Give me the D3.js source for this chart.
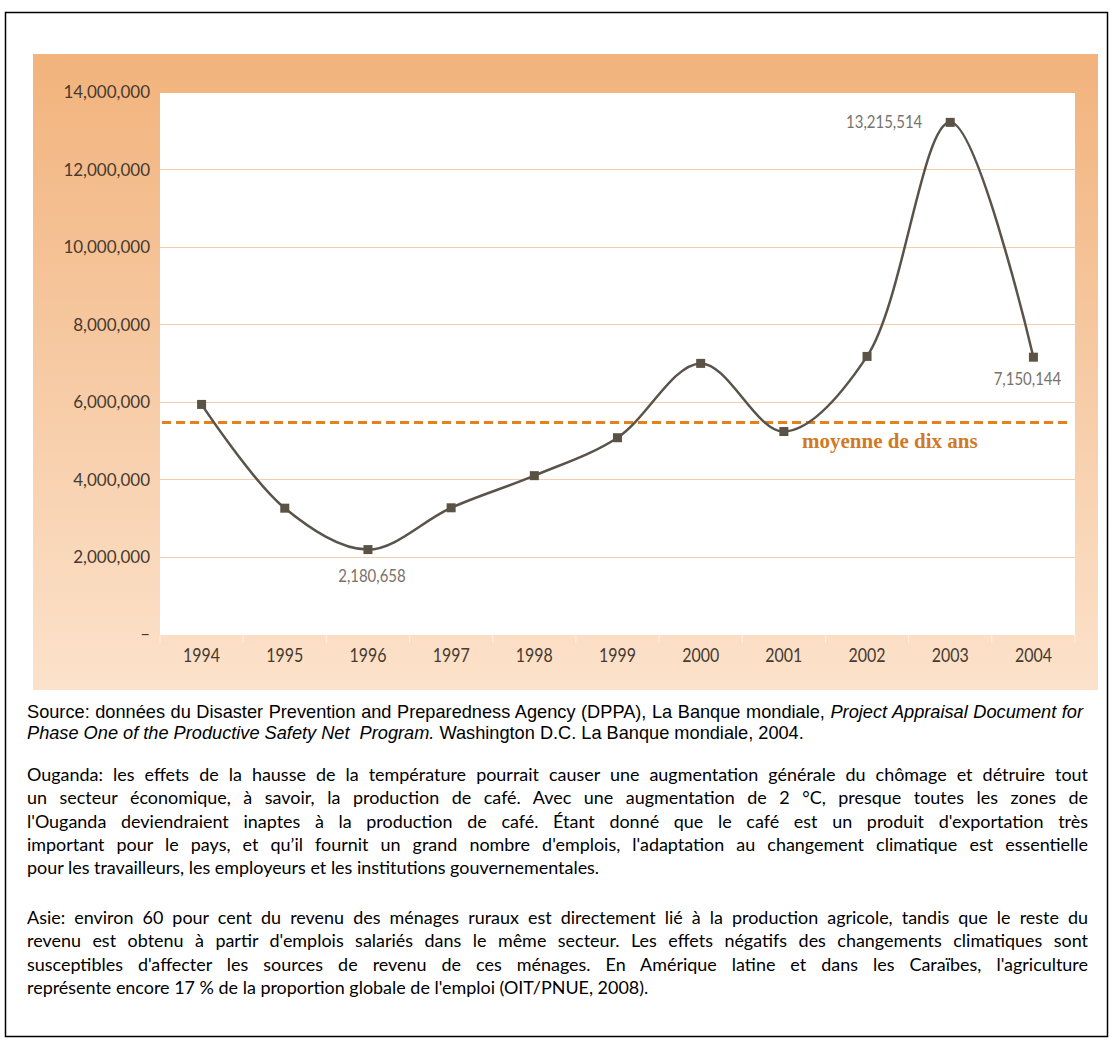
<!DOCTYPE html>
<html lang="fr">
<head>
<meta charset="utf-8">
<script src="https://cdn.jsdelivr.net/npm/d3@7"></script>
<style>
  html, body { margin: 0; padding: 0; background: #fff; }
  #page { position: relative; width: 1114px; height: 1043px; overflow: hidden; }
  #page svg { position: absolute; left: 0; top: 0; }
  .txt { position: absolute; left: 27px; width: 1061px; color: #000; }
  .line { white-space: nowrap; }
  .pre { white-space: pre; }
  .just { text-align: justify; text-align-last: justify; white-space: normal; }
  .src { font-family: "Liberation Sans", Arial, sans-serif; font-size: 18.2px; line-height: 21px; width: 1056px; }
  .para { font-family: Lato, "Open Sans", sans-serif; line-height: 23.3px; }
</style>
</head>
<body>
<div id="page"></div>
<script>
// Coffee export revenue, Ouganda (USD)
const years = [1994, 1995, 1996, 1997, 1998, 1999, 2000, 2001, 2002, 2003, 2004];
const values = [5930000, 3250000, 2180658, 3260000, 4090000, 5070000, 6990000, 5230000, 7170000, 13215514, 7150144];
const tenYearAverage = 5460000;
const averageLabel = "moyenne de dix ans";
const yTicks = [0, 2000000, 4000000, 6000000, 8000000, 10000000, 12000000, 14000000];
const labelledYears = [1996, 2003, 2004];

const sourceLines = [
  [["Source: données du Disaster Prevention and Preparedness Agency (DPPA), La Banque mondiale, ", false], ["Project Appraisal Document for", true]],
  [["Phase One of the Productive Safety Net  Program.", true], [" Washington D.C. La Banque mondiale, 2004.", false]]
];
const ougandaLines = [
  "Ouganda: les effets de la hausse de la température pourrait causer une augmentation générale du chômage et détruire tout",
  "un secteur économique, à savoir, la production de café. Avec une augmentation de 2 °C, presque toutes les zones de",
  "l'Ouganda deviendraient inaptes à la production de café. Étant donné que le café est un produit d'exportation très",
  "important pour le pays, et qu’il fournit un grand nombre d'emplois, l'adaptation au changement climatique est essentielle",
  "pour les travailleurs, les employeurs et les institutions gouvernementales."
];
const asieLines = [
  "Asie: environ 60 pour cent du revenu des ménages ruraux est directement lié à la production agricole, tandis que le reste du",
  "revenu est obtenu à partir d'emplois salariés dans le même secteur. Les effets négatifs des changements climatiques sont",
  "susceptibles d'affecter les sources de revenu de ces ménages. En Amérique latine et dans les Caraïbes, l'agriculture",
  "représente encore 17 % de la proportion globale de l'emploi (OIT/PNUE, 2008)."
];

const W = 1114, H = 1043;
const panel = { x: 33, y: 54, w: 1065, h: 636 };
const plot = { left: 160, top: 93, right: 1075, bottom: 635 };

const page = d3.select("#page");
const svg = page.append("svg").attr("width", W).attr("height", H);

// outer frame
svg.append("rect")
  .attr("x", 5.5).attr("y", 12.5).attr("width", 1102).attr("height", 1024)
  .attr("fill", "none").attr("stroke", "#000").attr("stroke-width", 1.5);

// orange panel with vertical gradient
const defs = svg.append("defs");
const grad = defs.append("linearGradient").attr("id", "panelGrad")
  .attr("x1", 0).attr("y1", 0).attr("x2", 0).attr("y2", 1);
grad.append("stop").attr("offset", "0%").attr("stop-color", "#f2b37c");
grad.append("stop").attr("offset", "45%").attr("stop-color", "#f6c8a0");
grad.append("stop").attr("offset", "100%").attr("stop-color", "#fce2cb");

svg.append("rect")
  .attr("x", panel.x).attr("y", panel.y).attr("width", panel.w).attr("height", panel.h)
  .attr("fill", "url(#panelGrad)");

// white plotting area
svg.append("rect")
  .attr("x", plot.left).attr("y", plot.top)
  .attr("width", plot.right - plot.left).attr("height", plot.bottom - plot.top)
  .attr("fill", "#fff");

const x = d3.scalePoint().domain(years).range([plot.left, plot.right]).padding(0.5);
const y = d3.scaleLinear().domain([0, 14000000]).range([plot.bottom - 1, plot.top - 1]);

// horizontal gridlines
svg.append("g").selectAll("line")
  .data(yTicks.filter(t => t > 0 && t < 14000000))
  .join("line")
  .attr("x1", plot.left).attr("x2", plot.right)
  .attr("y1", d => Math.round(y(d)) + 0.5).attr("y2", d => Math.round(y(d)) + 0.5)
  .attr("stroke", "#f6cdab").attr("stroke-width", 1.2);

// y axis labels
const fmt = d3.format(",");
const yAxis = d3.axisLeft(y).tickValues(yTicks)
  .tickFormat(d => d === 0 ? "–" : fmt(d))
  .tickSize(0).tickPadding(0);
const gy = svg.append("g").attr("transform", `translate(150,0)`).call(yAxis);
gy.select(".domain").remove();
gy.selectAll("text")
  .attr("font-family", "Lato, sans-serif").attr("font-size", 17)
  .attr("fill", "#463a30").attr("dy", "0.35em");

// x axis: faint separators and year labels
const step = x.step();
svg.append("g").selectAll("line")
  .data(d3.range(years.length + 1))
  .join("line")
  .attr("x1", i => plot.left + i * step).attr("x2", i => plot.left + i * step)
  .attr("y1", plot.bottom).attr("y2", plot.bottom + 8)
  .attr("stroke", "#ffffff").attr("stroke-opacity", 0.6).attr("stroke-width", 1);

svg.append("g").selectAll("text")
  .data(years)
  .join("text")
  .attr("transform", d => `translate(${x(d)},662) scale(0.84,1)`)
  .attr("text-anchor", "middle")
  .attr("font-family", "Lato, sans-serif").attr("font-size", 19)
  .attr("fill", "#463a30")
  .text(d => d);

// ten-year average
svg.append("line")
  .attr("x1", plot.left + 2).attr("x2", 1067)
  .attr("y1", y(tenYearAverage)).attr("y2", y(tenYearAverage))
  .attr("stroke", "#e4801f").attr("stroke-width", 3)
  .attr("stroke-dasharray", "9,5");

svg.append("text")
  .attr("x", 802).attr("y", y(tenYearAverage) + 25)
  .attr("font-family", "'Liberation Serif', 'Times New Roman', serif")
  .attr("font-weight", "bold").attr("font-size", 21)
  .attr("fill", "#d07a26")
  .text(averageLabel);

// series line
const data = years.map((yr, i) => ({ year: yr, value: values[i] }));
const line = d3.line()
  .x(d => x(d.year)).y(d => y(d.value))
  .curve(d3.curveCatmullRom.alpha(0.5));

svg.append("path")
  .datum(data)
  .attr("d", line)
  .attr("fill", "none")
  .attr("stroke", "#59534a").attr("stroke-width", 2.5);

// markers
const m = 9;
svg.append("g").selectAll("rect")
  .data(data)
  .join("rect")
  .attr("x", d => x(d.year) - m / 2).attr("y", d => y(d.value) - m / 2)
  .attr("width", m).attr("height", m)
  .attr("fill", "#5a5244");

// value labels
const labelPlacement = {
  1996: { dx: 4, dy: 32, anchor: "middle" },
  2003: { dx: -28, dy: 6, anchor: "end" },
  2004: { dx: -6, dy: 28, anchor: "middle" }
};
svg.append("g").selectAll("text")
  .data(data.filter(d => labelledYears.includes(d.year)))
  .join("text")
  .attr("transform", d => {
    const p = labelPlacement[d.year];
    return `translate(${x(d.year) + p.dx},${y(d.value) + p.dy}) scale(0.88,1)`;
  })
  .attr("text-anchor", d => labelPlacement[d.year].anchor)
  .attr("font-family", "Lato, sans-serif").attr("font-size", 17)
  .attr("fill", "#78726c")
  .text(d => fmt(d.value));

// source note (first line justified to the measure)
const src = page.append("div").attr("class", "txt src").style("top", "702px");
sourceLines.forEach((parts, i) => {
  const ln = src.append("div").attr("class", i < sourceLines.length - 1 ? "just" : "pre");
  parts.forEach(([t, it]) => {
    ln.append("span").style("font-style", it ? "italic" : "normal").text(t);
  });
});

// justified paragraphs
function paragraph(lines, top) {
  const box = page.append("div").attr("class", "txt para").style("top", top + "px");
  lines.forEach((t, i) => {
    box.append("div")
      .attr("class", i < lines.length - 1 ? "just" : "line")
      .text(t);
  });
  return box;
}
const p1 = paragraph(ougandaLines, 763);
const p2 = paragraph(asieLines, 906);

// size the paragraph font so the fullest line fills the measure exactly
const ctx = document.createElement("canvas").getContext("2d");
function widest(lines, size) {
  ctx.font = `${size}px Lato`;
  return d3.max(lines.slice(0, -1), t => ctx.measureText(t).width);
}
const base = 17;
const fit = Math.min(1061 / widest(ougandaLines, base), 1061 / widest(asieLines, base));
const paraSize = Math.min(base * fit, 18) - 0.05;
p1.style("font-size", paraSize + "px");
p2.style("font-size", paraSize + "px");
</script>
</body>
</html>
